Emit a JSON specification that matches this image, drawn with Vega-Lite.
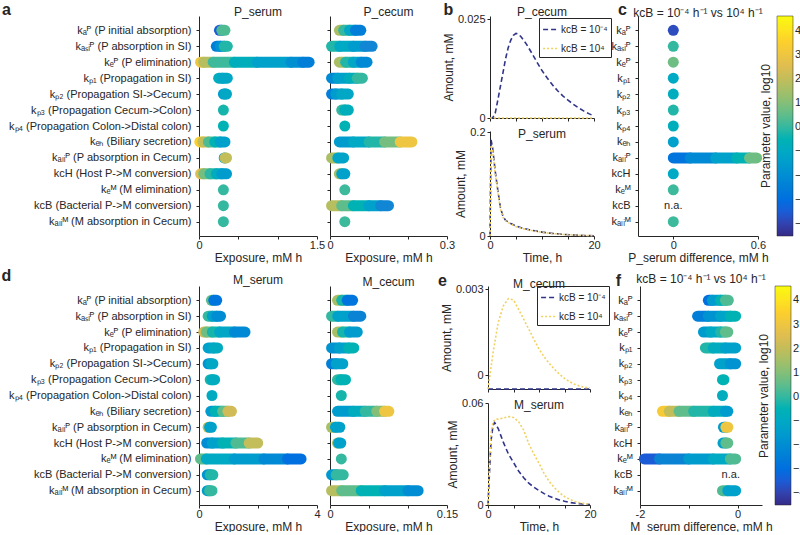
{
  "$schema": "https://vega.github.io/schema/vega-lite/v6.json",
  "autosize": {"type": "pad"},
  "padding": {"left": 1, "top": 1, "right": 0, "bottom": 0},
  "config": {
    "view": {"stroke": null},
    "font": "Liberation Sans",
    "axis": {"domainColor": "#262626", "tickColor": "#262626", "labelColor": "#262626", "titleColor": "#262626", "grid": false, "labelFontSize": 11, "titleFontSize": 12, "titleFontWeight": "normal", "tickSize": 3, "labelFlush": false, "labelOverlap": false, "titlePadding": 2},
    "title": {"fontSize": 12, "fontWeight": "normal", "color": "#262626", "offset": -2, "frame": "group"},
    "legend": {"labelFontSize": 11, "titleFontSize": 12, "titleFontWeight": "normal", "labelColor": "#262626", "titleColor": "#262626"}
  },
  "datasets": {
    "Ps": [
      {"i":1,"x":0.26,"x2":0.29,"v":-3.5},{"i":1,"x":0.29,"x2":0.33,"v":0.3},
      {"i":2,"x":0.22,"x2":0.27,"v":-2.5},{"i":2,"x":0.27,"x2":0.32,"v":-1.8},{"i":2,"x":0.32,"x2":0.36,"v":-0.2},
      {"i":3,"x":0.02,"x2":0.06,"v":3},{"i":3,"x":0.06,"x2":0.18,"v":1.8},{"i":3,"x":0.18,"x2":0.45,"v":0.1},{"i":3,"x":0.45,"x2":0.74,"v":-0.7},{"i":3,"x":0.74,"x2":1.17,"v":-1.3},{"i":3,"x":1.17,"x2":1.32,"v":-1.9},{"i":3,"x":1.32,"x2":1.4,"v":-2.5},
      {"i":4,"x":0.25,"x2":0.3,"v":-0.8},{"i":4,"x":0.3,"x2":0.36,"v":-1.1},
      {"i":5,"x":0.31,"x2":0.33,"v":-1.5},{"i":5,"x":0.33,"x2":0.35,"v":-1.1},
      {"i":6,"x":0.31,"x2":0.31,"v":-0.3},
      {"i":7,"x":0.31,"x2":0.31,"v":-0.5},
      {"i":8,"x":0.01,"x2":0.05,"v":3.5},{"i":8,"x":0.05,"x2":0.12,"v":2},{"i":8,"x":0.12,"x2":0.2,"v":0.3},{"i":8,"x":0.2,"x2":0.27,"v":-0.5},{"i":8,"x":0.27,"x2":0.33,"v":-1.3},
      {"i":9,"x":0.32,"x2":0.33,"v":-1.3},{"i":9,"x":0.33,"x2":0.35,"v":2},
      {"i":10,"x":0.02,"x2":0.06,"v":2.5},{"i":10,"x":0.06,"x2":0.14,"v":0.8},{"i":10,"x":0.14,"x2":0.22,"v":-0.1},{"i":10,"x":0.22,"x2":0.29,"v":-0.8},{"i":10,"x":0.29,"x2":0.35,"v":-1.5},
      {"i":11,"x":0.31,"x2":0.31,"v":0},
      {"i":12,"x":0.31,"x2":0.31,"v":0},
      {"i":13,"x":0.31,"x2":0.31,"v":0}
    ],
    "Pc": [
      {"i":1,"x":0.024,"x2":0.035,"v":1.6},{"i":1,"x":0.035,"x2":0.05,"v":0},{"i":1,"x":0.05,"x2":0.065,"v":-1.1},{"i":1,"x":0.065,"x2":0.079,"v":-2.5},
      {"i":2,"x":0.004,"x2":0.025,"v":-0.2},{"i":2,"x":0.025,"x2":0.06,"v":-1},{"i":2,"x":0.06,"x2":0.09,"v":-1.5},{"i":2,"x":0.09,"x2":0.108,"v":-2.2},
      {"i":3,"x":0.024,"x2":0.04,"v":1.6},{"i":3,"x":0.04,"x2":0.06,"v":-0.2},{"i":3,"x":0.06,"x2":0.08,"v":-1.1},{"i":3,"x":0.08,"x2":0.095,"v":-2.1},
      {"i":4,"x":0.004,"x2":0.02,"v":-2.1},{"i":4,"x":0.02,"x2":0.05,"v":-1.3},{"i":4,"x":0.05,"x2":0.07,"v":-0.7},{"i":4,"x":0.07,"x2":0.083,"v":0},
      {"i":5,"x":0.004,"x2":0.015,"v":-2.5},{"i":5,"x":0.015,"x2":0.03,"v":-1.5},{"i":5,"x":0.03,"x2":0.047,"v":-1.1},
      {"i":6,"x":0.03,"x2":0.038,"v":0},{"i":6,"x":0.038,"x2":0.047,"v":-0.7},
      {"i":7,"x":0.038,"x2":0.038,"v":-0.5},
      {"i":8,"x":0.024,"x2":0.06,"v":-1.5},{"i":8,"x":0.06,"x2":0.1,"v":-1},{"i":8,"x":0.1,"x2":0.14,"v":-0.2},{"i":8,"x":0.14,"x2":0.18,"v":0.8},{"i":8,"x":0.18,"x2":0.21,"v":3},
      {"i":9,"x":0.004,"x2":0.02,"v":1.6},{"i":9,"x":0.02,"x2":0.035,"v":-1.2},
      {"i":10,"x":0.024,"x2":0.03,"v":1.5},{"i":10,"x":0.03,"x2":0.038,"v":-1.3},
      {"i":11,"x":0.038,"x2":0.038,"v":0.1},
      {"i":12,"x":0.004,"x2":0.03,"v":1.8},{"i":12,"x":0.03,"x2":0.06,"v":0.5},{"i":12,"x":0.06,"x2":0.1,"v":-0.5},{"i":12,"x":0.1,"x2":0.13,"v":-1.3},{"i":12,"x":0.13,"x2":0.15,"v":-2.2},
      {"i":13,"x":0.038,"x2":0.038,"v":0.1}
    ],
    "dP": [
      {"i":1,"x":0,"x2":0,"v":-3.8},{"i":2,"x":0,"x2":0,"v":0},{"i":3,"x":0,"x2":0,"v":0.7},{"i":4,"x":0,"x2":0,"v":-1},{"i":5,"x":0,"x2":0,"v":-0.8},{"i":6,"x":0,"x2":0,"v":-0.2},{"i":7,"x":0,"x2":0,"v":-0.7},{"i":8,"x":0,"x2":0,"v":-1.3},
      {"i":9,"x":0,"x2":0.12,"v":-2.8},{"i":9,"x":0.12,"x2":0.3,"v":-2.1},{"i":9,"x":0.3,"x2":0.45,"v":-1.3},{"i":9,"x":0.45,"x2":0.54,"v":-0.5},{"i":9,"x":0.54,"x2":0.59,"v":0.7},
      {"i":10,"x":0,"x2":0,"v":-1},{"i":11,"x":0,"x2":0,"v":0.1},{"i":13,"x":0,"x2":0,"v":0.1}
    ],
    "Ms": [
      {"i":1,"x":0.42,"x2":0.5,"v":0.5},{"i":1,"x":0.5,"x2":0.6,"v":-2.8},
      {"i":2,"x":0.31,"x2":0.45,"v":0},{"i":2,"x":0.45,"x2":0.6,"v":-1.3},{"i":2,"x":0.6,"x2":0.73,"v":-2},
      {"i":3,"x":0.16,"x2":0.25,"v":2.2},{"i":3,"x":0.25,"x2":0.45,"v":0.7},{"i":3,"x":0.45,"x2":0.7,"v":-0.3},{"i":3,"x":0.7,"x2":1.2,"v":-1.1},{"i":3,"x":1.2,"x2":1.56,"v":-2.1},
      {"i":4,"x":0.31,"x2":0.5,"v":-1.3},{"i":4,"x":0.5,"x2":0.63,"v":-0.9},
      {"i":5,"x":0.31,"x2":0.4,"v":-1.8},{"i":5,"x":0.4,"x2":0.47,"v":-1.1},
      {"i":6,"x":0.38,"x2":0.45,"v":-0.3},{"i":6,"x":0.45,"x2":0.53,"v":-0.8},
      {"i":7,"x":0.44,"x2":0.44,"v":-0.9},
      {"i":8,"x":0.4,"x2":0.55,"v":-1.5},{"i":8,"x":0.55,"x2":0.8,"v":-0.5},{"i":8,"x":0.8,"x2":0.98,"v":0.5},{"i":8,"x":0.98,"x2":1.1,"v":2.2},
      {"i":9,"x":0.31,"x2":0.36,"v":1.8},{"i":9,"x":0.36,"x2":0.42,"v":-1.3},
      {"i":10,"x":0.26,"x2":0.45,"v":-2},{"i":10,"x":0.45,"x2":0.8,"v":-1.3},{"i":10,"x":0.8,"x2":1.25,"v":-0.5},{"i":10,"x":1.25,"x2":1.7,"v":0.3},{"i":10,"x":1.7,"x2":1.99,"v":2},
      {"i":11,"x":0.05,"x2":0.25,"v":0.5},{"i":11,"x":0.25,"x2":1.2,"v":-1},{"i":11,"x":1.2,"x2":2.2,"v":-1.5},{"i":11,"x":2.2,"x2":3.0,"v":-2.1},{"i":11,"x":3.0,"x2":3.46,"v":-3},
      {"i":12,"x":0.28,"x2":0.38,"v":-1.8},{"i":12,"x":0.38,"x2":0.47,"v":-0.2},
      {"i":13,"x":0.28,"x2":0.36,"v":-1.5},{"i":13,"x":0.36,"x2":0.44,"v":0}
    ],
    "Mc": [
      {"i":1,"x":0.0096,"x2":0.015,"v":1.6},{"i":1,"x":0.015,"x2":0.022,"v":-0.3},{"i":1,"x":0.022,"x2":0.029,"v":-2.8},
      {"i":2,"x":0.002,"x2":0.01,"v":0},{"i":2,"x":0.01,"x2":0.03,"v":-1.3},{"i":2,"x":0.03,"x2":0.0395,"v":-2.3},
      {"i":3,"x":0.0096,"x2":0.016,"v":1.6},{"i":3,"x":0.016,"x2":0.025,"v":-0.3},{"i":3,"x":0.025,"x2":0.035,"v":-1.5},
      {"i":4,"x":0.002,"x2":0.012,"v":-1.8},{"i":4,"x":0.012,"x2":0.024,"v":-1.3},{"i":4,"x":0.024,"x2":0.0305,"v":-0.5},
      {"i":5,"x":0.002,"x2":0.008,"v":-2.5},{"i":5,"x":0.008,"x2":0.0164,"v":-1.3},
      {"i":6,"x":0.0096,"x2":0.014,"v":0},{"i":6,"x":0.014,"x2":0.0199,"v":-0.5},
      {"i":7,"x":0.0145,"x2":0.0145,"v":-0.3},
      {"i":8,"x":0.0096,"x2":0.03,"v":-1.5},{"i":8,"x":0.03,"x2":0.045,"v":-0.8},{"i":8,"x":0.045,"x2":0.06,"v":0},{"i":8,"x":0.06,"x2":0.07,"v":1},{"i":8,"x":0.07,"x2":0.0754,"v":3},
      {"i":9,"x":0.002,"x2":0.007,"v":1.6},{"i":9,"x":0.007,"x2":0.0126,"v":-1.3},
      {"i":10,"x":0.0096,"x2":0.011,"v":1.5},{"i":10,"x":0.011,"x2":0.0139,"v":-1.3},
      {"i":11,"x":0.0145,"x2":0.0145,"v":0},
      {"i":12,"x":0.002,"x2":0.008,"v":-1.6},{"i":12,"x":0.008,"x2":0.017,"v":0},
      {"i":13,"x":0.002,"x2":0.015,"v":1.8},{"i":13,"x":0.015,"x2":0.04,"v":0.5},{"i":13,"x":0.04,"x2":0.07,"v":-0.5},{"i":13,"x":0.07,"x2":0.1,"v":-1.3},{"i":13,"x":0.1,"x2":0.113,"v":-2}
    ],
    "dM": [
      {"i":1,"x":-0.6,"x2":-0.52,"v":-3},{"i":1,"x":-0.52,"x2":-0.35,"v":-1.5},{"i":1,"x":-0.35,"x2":-0.25,"v":-0.5},{"i":1,"x":-0.25,"x2":-0.19,"v":0.3},
      {"i":2,"x":-0.82,"x2":-0.6,"v":-2.5},{"i":2,"x":-0.6,"x2":-0.35,"v":-1.8},{"i":2,"x":-0.35,"x2":-0.15,"v":-1.2},{"i":2,"x":-0.15,"x2":-0.04,"v":-0.5},
      {"i":3,"x":-0.7,"x2":-0.55,"v":-1.5},{"i":3,"x":-0.55,"x2":-0.35,"v":-1},{"i":3,"x":-0.35,"x2":-0.25,"v":-0.2},{"i":3,"x":-0.25,"x2":-0.2,"v":0.5},
      {"i":4,"x":-0.66,"x2":-0.5,"v":-0.2},{"i":4,"x":-0.5,"x2":-0.25,"v":-0.8},{"i":4,"x":-0.25,"x2":-0.04,"v":-1.3},
      {"i":5,"x":-0.37,"x2":-0.15,"v":-1.3},{"i":5,"x":-0.15,"x2":-0.04,"v":-1.8},
      {"i":6,"x":-0.31,"x2":-0.28,"v":-0.5},
      {"i":7,"x":-0.31,"x2":-0.31,"v":-0.8},
      {"i":8,"x":-1.54,"x2":-1.4,"v":3.3},{"i":8,"x":-1.4,"x2":-1.2,"v":2},{"i":8,"x":-1.2,"x2":-0.9,"v":0.5},{"i":8,"x":-0.9,"x2":-0.5,"v":-0.2},{"i":8,"x":-0.5,"x2":-0.25,"v":-0.8},{"i":8,"x":-0.25,"x2":-0.2,"v":-1.5},
      {"i":9,"x":-0.29,"x2":-0.24,"v":-1.5},{"i":9,"x":-0.24,"x2":-0.2,"v":3},
      {"i":10,"x":-0.3,"x2":-0.24,"v":-1.3},{"i":10,"x":-0.24,"x2":-0.2,"v":0.5},
      {"i":11,"x":-1.91,"x2":-1.6,"v":-3.5},{"i":11,"x":-1.6,"x2":-1.0,"v":-2.3},{"i":11,"x":-1.0,"x2":-0.5,"v":-1.5},{"i":11,"x":-0.5,"x2":-0.15,"v":-1},{"i":11,"x":-0.15,"x2":-0.04,"v":0.3},
      {"i":13,"x":-0.31,"x2":-0.2,"v":0.3},{"i":13,"x":-0.2,"x2":-0.04,"v":-1.3}
    ],
    "bc": [
      {"t":0,"y":0,"s":"kcB = 10⁻⁴"},{"t":0.5,"y":0,"s":"kcB = 10⁻⁴"},{"t":1,"y":0.0012,"s":"kcB = 10⁻⁴"},{"t":1.5,"y":0.0045,"s":"kcB = 10⁻⁴"},{"t":2,"y":0.008,"s":"kcB = 10⁻⁴"},{"t":2.5,"y":0.0115,"s":"kcB = 10⁻⁴"},{"t":3,"y":0.015,"s":"kcB = 10⁻⁴"},{"t":3.5,"y":0.0178,"s":"kcB = 10⁻⁴"},{"t":4,"y":0.0197,"s":"kcB = 10⁻⁴"},{"t":4.5,"y":0.0209,"s":"kcB = 10⁻⁴"},{"t":5,"y":0.0214,"s":"kcB = 10⁻⁴"},{"t":5.5,"y":0.0212,"s":"kcB = 10⁻⁴"},{"t":6,"y":0.0205,"s":"kcB = 10⁻⁴"},{"t":7,"y":0.0187,"s":"kcB = 10⁻⁴"},{"t":8,"y":0.0165,"s":"kcB = 10⁻⁴"},{"t":9,"y":0.0142,"s":"kcB = 10⁻⁴"},{"t":10,"y":0.012,"s":"kcB = 10⁻⁴"},{"t":11,"y":0.0101,"s":"kcB = 10⁻⁴"},{"t":12,"y":0.0084,"s":"kcB = 10⁻⁴"},{"t":13,"y":0.0069,"s":"kcB = 10⁻⁴"},{"t":14,"y":0.0056,"s":"kcB = 10⁻⁴"},{"t":15,"y":0.0045,"s":"kcB = 10⁻⁴"},{"t":16,"y":0.0035,"s":"kcB = 10⁻⁴"},{"t":17,"y":0.0026,"s":"kcB = 10⁻⁴"},{"t":18,"y":0.0018,"s":"kcB = 10⁻⁴"},{"t":19,"y":0.0011,"s":"kcB = 10⁻⁴"},{"t":20,"y":0.0005,"s":"kcB = 10⁻⁴"},
      {"t":0,"y":0,"s":"kcB = 10⁴"},{"t":20,"y":0,"s":"kcB = 10⁴"}
    ],
    "bs": [
      {"t":0,"y":0,"s":"kcB = 10⁻⁴"},{"t":0.2,"y":0.185,"s":"kcB = 10⁻⁴"},{"t":0.5,"y":0.17,"s":"kcB = 10⁻⁴"},{"t":1,"y":0.125,"s":"kcB = 10⁻⁴"},{"t":1.5,"y":0.088,"s":"kcB = 10⁻⁴"},{"t":2,"y":0.055,"s":"kcB = 10⁻⁴"},{"t":2.5,"y":0.038,"s":"kcB = 10⁻⁴"},{"t":3,"y":0.03,"s":"kcB = 10⁻⁴"},{"t":4,"y":0.024,"s":"kcB = 10⁻⁴"},{"t":5,"y":0.019,"s":"kcB = 10⁻⁴"},{"t":6,"y":0.016,"s":"kcB = 10⁻⁴"},{"t":7,"y":0.0135,"s":"kcB = 10⁻⁴"},{"t":8,"y":0.011,"s":"kcB = 10⁻⁴"},{"t":10,"y":0.0075,"s":"kcB = 10⁻⁴"},{"t":12,"y":0.005,"s":"kcB = 10⁻⁴"},{"t":14,"y":0.0032,"s":"kcB = 10⁻⁴"},{"t":16,"y":0.002,"s":"kcB = 10⁻⁴"},{"t":18,"y":0.0011,"s":"kcB = 10⁻⁴"},{"t":20,"y":0.0005,"s":"kcB = 10⁻⁴"},
      {"t":0,"y":0,"s":"kcB = 10⁴"},{"t":0.2,"y":0.175,"s":"kcB = 10⁴"},{"t":0.5,"y":0.165,"s":"kcB = 10⁴"},{"t":1,"y":0.12,"s":"kcB = 10⁴"},{"t":1.5,"y":0.085,"s":"kcB = 10⁴"},{"t":2,"y":0.052,"s":"kcB = 10⁴"},{"t":2.5,"y":0.036,"s":"kcB = 10⁴"},{"t":3,"y":0.029,"s":"kcB = 10⁴"},{"t":4,"y":0.023,"s":"kcB = 10⁴"},{"t":5,"y":0.018,"s":"kcB = 10⁴"},{"t":6,"y":0.015,"s":"kcB = 10⁴"},{"t":7,"y":0.0125,"s":"kcB = 10⁴"},{"t":8,"y":0.0105,"s":"kcB = 10⁴"},{"t":10,"y":0.007,"s":"kcB = 10⁴"},{"t":12,"y":0.0047,"s":"kcB = 10⁴"},{"t":14,"y":0.003,"s":"kcB = 10⁴"},{"t":16,"y":0.0019,"s":"kcB = 10⁴"},{"t":18,"y":0.001,"s":"kcB = 10⁴"},{"t":20,"y":0.0005,"s":"kcB = 10⁴"}
    ],
    "ec": [
      {"t":0,"y":0,"s":"kcB = 10⁻⁴"},{"t":20,"y":0,"s":"kcB = 10⁻⁴"},
      {"t":0,"y":0,"s":"kcB = 10⁴"},{"t":1,"y":0.0011,"s":"kcB = 10⁴"},{"t":2,"y":0.002,"s":"kcB = 10⁴"},{"t":3,"y":0.0025,"s":"kcB = 10⁴"},{"t":4,"y":0.00272,"s":"kcB = 10⁴"},{"t":5,"y":0.00268,"s":"kcB = 10⁴"},{"t":6,"y":0.0024,"s":"kcB = 10⁴"},{"t":7,"y":0.0021,"s":"kcB = 10⁴"},{"t":8,"y":0.0018,"s":"kcB = 10⁴"},{"t":9,"y":0.0015,"s":"kcB = 10⁴"},{"t":10,"y":0.0012,"s":"kcB = 10⁴"},{"t":11,"y":0.00097,"s":"kcB = 10⁴"},{"t":12,"y":0.00077,"s":"kcB = 10⁴"},{"t":13,"y":0.0006,"s":"kcB = 10⁴"},{"t":14,"y":0.00045,"s":"kcB = 10⁴"},{"t":15,"y":0.00032,"s":"kcB = 10⁴"},{"t":16,"y":0.00022,"s":"kcB = 10⁴"},{"t":17,"y":0.00014,"s":"kcB = 10⁴"},{"t":18,"y":0.00009,"s":"kcB = 10⁴"},{"t":19,"y":0.00005,"s":"kcB = 10⁴"},{"t":20,"y":0.00003,"s":"kcB = 10⁴"}
    ],
    "es": [
      {"t":0,"y":0,"s":"kcB = 10⁻⁴"},{"t":0.3,"y":0.02,"s":"kcB = 10⁻⁴"},{"t":0.6,"y":0.038,"s":"kcB = 10⁻⁴"},{"t":1,"y":0.047,"s":"kcB = 10⁻⁴"},{"t":1.3,"y":0.0485,"s":"kcB = 10⁻⁴"},{"t":2,"y":0.045,"s":"kcB = 10⁻⁴"},{"t":3,"y":0.037,"s":"kcB = 10⁻⁴"},{"t":4,"y":0.03,"s":"kcB = 10⁻⁴"},{"t":5,"y":0.025,"s":"kcB = 10⁻⁴"},{"t":6,"y":0.02,"s":"kcB = 10⁻⁴"},{"t":7,"y":0.016,"s":"kcB = 10⁻⁴"},{"t":8,"y":0.0128,"s":"kcB = 10⁻⁴"},{"t":9,"y":0.0105,"s":"kcB = 10⁻⁴"},{"t":10,"y":0.0085,"s":"kcB = 10⁻⁴"},{"t":11,"y":0.0067,"s":"kcB = 10⁻⁴"},{"t":12,"y":0.0052,"s":"kcB = 10⁻⁴"},{"t":13,"y":0.004,"s":"kcB = 10⁻⁴"},{"t":14,"y":0.003,"s":"kcB = 10⁻⁴"},{"t":15,"y":0.0022,"s":"kcB = 10⁻⁴"},{"t":16,"y":0.0015,"s":"kcB = 10⁻⁴"},{"t":18,"y":0.0007,"s":"kcB = 10⁻⁴"},{"t":20,"y":0.0003,"s":"kcB = 10⁻⁴"},
      {"t":0,"y":0,"s":"kcB = 10⁴"},{"t":0.3,"y":0.025,"s":"kcB = 10⁴"},{"t":0.6,"y":0.042,"s":"kcB = 10⁴"},{"t":1,"y":0.049,"s":"kcB = 10⁴"},{"t":1.5,"y":0.0505,"s":"kcB = 10⁴"},{"t":2,"y":0.0505,"s":"kcB = 10⁴"},{"t":3,"y":0.0512,"s":"kcB = 10⁴"},{"t":4,"y":0.052,"s":"kcB = 10⁴"},{"t":5,"y":0.0515,"s":"kcB = 10⁴"},{"t":6,"y":0.049,"s":"kcB = 10⁴"},{"t":7,"y":0.044,"s":"kcB = 10⁴"},{"t":8,"y":0.036,"s":"kcB = 10⁴"},{"t":9,"y":0.03,"s":"kcB = 10⁴"},{"t":10,"y":0.0245,"s":"kcB = 10⁴"},{"t":11,"y":0.0185,"s":"kcB = 10⁴"},{"t":12,"y":0.0138,"s":"kcB = 10⁴"},{"t":13,"y":0.0102,"s":"kcB = 10⁴"},{"t":14,"y":0.0073,"s":"kcB = 10⁴"},{"t":15,"y":0.005,"s":"kcB = 10⁴"},{"t":16,"y":0.0034,"s":"kcB = 10⁴"},{"t":17,"y":0.0022,"s":"kcB = 10⁴"},{"t":18,"y":0.0014,"s":"kcB = 10⁴"},{"t":19,"y":0.0008,"s":"kcB = 10⁴"},{"t":20,"y":0.0005,"s":"kcB = 10⁴"}
    ]
  },
  "spacing": 4,
  "resolve": {"scale": {"color": "independent", "stroke": "independent", "strokeDash": "independent"}},
  "vconcat": [
    {
      "spacing": -13,
      "resolve": {"scale": {"color": "independent", "stroke": "independent", "strokeDash": "independent"}},
      "hconcat": [
        {
          "bounds": "flush",
          "spacing": 13,
          "hconcat": [
            {
              "width": 118, "height": 220,
              "title": {"text": "P_serum", "offset": -18},
              "data": {"name": "Ps"},
              "mark": {"type": "rule", "strokeWidth": 11, "strokeCap": "round"},
              "encoding": {
                "y": {"field": "i", "type": "ordinal", "scale": {"type": "point", "domain": [1,2,3,4,5,6,7,8,9,10,11,12,13], "padding": 0.9},
                  "axis": {"title": "a", "titleAngle": 0, "titleX": -193, "titleY": -7, "titleFontSize": 16, "titleFontWeight": "bold", "titleAlign": "center", "titleBaseline": "middle", "labelLimit": 400, "labelPadding": 5,
                    "labelExpr": "['', 'kₐᴾ (P initial absorption)', 'kₐₛᵢᴾ (P absorption in SI)', 'kₑᴾ (P elimination)', 'kₚ₁ (Propagation in SI)', 'kₚ₂ (Propagation SI->Cecum)', 'kₚ₃ (Propagation Cecum->Colon)', 'kₚ₄ (Propagation Colon->Distal colon)', 'kₑₕ (Biliary secretion)', 'kₐₗᵢᴾ (P absorption in Cecum)', 'kcH (Host P->M conversion)', 'kₑᴹ (M elimination)', 'kcB (Bacterial P->M conversion)', 'kₐₗᵢᴹ (M absorption in Cecum)'][datum.value]"}},
                "x": {"field": "x", "type": "quantitative", "scale": {"domain": [0, 1.5], "nice": false, "zero": false},
                  "axis": {"values": [0, 0.5, 1, 1.5], "labelPadding": 0, "labelExpr": "datum.value == 0 ? '0' : datum.value == 1.5 ? '1.5' : ''", "title": "Exposure, mM h"}},
                "x2": {"field": "x2"},
                "color": {"field": "v", "type": "quantitative", "legend": null,
                  "scale": {"type": "linear", "domain": [-4.5, -3.3625, -2.225, -1.0875, 0.05, 1.1875, 2.325, 3.4625, 4.6], "range": ["#352a87", "#0363e1", "#1485d4", "#06a7c6", "#38b99e", "#92bf73", "#d9ba56", "#fcce2e", "#f9fb0e"], "clamp": true}}
              }
            },
            {
              "width": 117, "height": 220,
              "title": {"text": "P_cecum", "offset": -18},
              "data": {"name": "Pc"},
              "mark": {"type": "rule", "strokeWidth": 11, "strokeCap": "round"},
              "encoding": {
                "y": {"field": "i", "type": "ordinal", "scale": {"type": "point", "domain": [1,2,3,4,5,6,7,8,9,10,11,12,13], "padding": 0.9},
                  "axis": {"labels": false, "title": "b", "titleAngle": 0, "titleX": 118, "titleY": -7, "titleFontSize": 16, "titleFontWeight": "bold", "titleAlign": "center", "titleBaseline": "middle"}},
                "x": {"field": "x", "type": "quantitative", "scale": {"domain": [0, 0.3], "nice": false, "zero": false},
                  "axis": {"values": [0, 0.1, 0.2, 0.3], "labelPadding": 0, "labelExpr": "datum.value == 0 ? '0' : datum.value == 0.3 ? '0.3' : ''", "title": "Exposure, mM h"}},
                "x2": {"field": "x2"},
                "color": {"field": "v", "type": "quantitative", "legend": null,
                  "scale": {"type": "linear", "domain": [-4.5, -3.3625, -2.225, -1.0875, 0.05, 1.1875, 2.325, 3.4625, 4.6], "range": ["#352a87", "#0363e1", "#1485d4", "#06a7c6", "#38b99e", "#92bf73", "#d9ba56", "#fcce2e", "#f9fb0e"], "clamp": true}}
              }
            }
          ]
        },
        {
          "spacing": -1,
          "resolve": {"scale": {"color": "independent", "stroke": "independent", "strokeDash": "independent"}},
          "hconcat": [
            {
              "bounds": "flush",
              "spacing": 13,
              "resolve": {"scale": {"stroke": "independent", "strokeDash": "independent"}},
              "vconcat": [
                {
                  "width": 104, "height": 102,
                  "title": {"text": "P_cecum", "offset": -6},
                  "data": {"name": "bc"},
                  "mark": {"type": "line", "strokeWidth": 1.6},
                  "encoding": {
                    "x": {"field": "t", "type": "quantitative", "scale": {"domain": [0, 20], "nice": false},
                      "axis": {"values": [0, 5, 10, 15, 20], "labels": false, "title": null}},
                    "y": {"field": "y", "type": "quantitative", "scale": {"domain": [0, 0.0258], "nice": false},
                      "axis": {"values": [0, 0.025], "labelExpr": "datum.value == 0 ? '0' : '0.025'", "title": "Amount, mM"}},
                    "stroke": {"field": "s", "type": "nominal", "scale": {"domain": ["kcB = 10⁻⁴", "kcB = 10⁴"], "range": ["#30358a", "#f1d15f"]},
                      "legend": {"orient": "none", "legendX": 49, "legendY": 2, "title": null, "symbolType": "stroke", "symbolSize": 220, "symbolStrokeWidth": 1.6, "strokeColor": "#262626", "fillColor": "white", "padding": 3, "rowPadding": 5, "labelOffset": 2, "labelFontSize": 10}},
                    "strokeDash": {"field": "s", "type": "nominal", "scale": {"domain": ["kcB = 10⁻⁴", "kcB = 10⁴"], "range": [[5, 3], [2, 2]]},
                      "legend": {"orient": "none", "legendX": 49, "legendY": 2, "title": null, "symbolType": "stroke", "symbolSize": 220, "symbolStrokeWidth": 1.6, "strokeColor": "#262626", "fillColor": "white", "padding": 3, "rowPadding": 5, "labelOffset": 2, "labelFontSize": 10}}
                  }
                },
                {
                  "width": 104, "height": 105,
                  "title": {"text": "P_serum", "offset": -15},
                  "data": {"name": "bs"},
                  "mark": {"type": "line", "strokeWidth": 1.6},
                  "encoding": {
                    "x": {"field": "t", "type": "quantitative", "scale": {"domain": [0, 20], "nice": false},
                      "axis": {"values": [0, 5, 10, 15, 20], "labelPadding": 0, "labelExpr": "datum.value == 0 ? '0' : datum.value == 20 ? '20' : ''", "title": "Time, h"}},
                    "y": {"field": "y", "type": "quantitative", "scale": {"domain": [0, 0.202], "nice": false},
                      "axis": {"values": [0, 0.2], "labelExpr": "datum.value == 0 ? '0' : '0.2'", "title": "Amount, mM"}},
                    "stroke": {"field": "s", "type": "nominal", "scale": {"domain": ["kcB = 10⁻⁴", "kcB = 10⁴"], "range": ["#30358a", "#f1d15f"]}, "legend": null},
                    "strokeDash": {"field": "s", "type": "nominal", "scale": {"domain": ["kcB = 10⁻⁴", "kcB = 10⁴"], "range": [[5, 3], [2, 2]]}, "legend": null}
                  }
                }
              ]
            },
            {
              "width": 120, "height": 220,
              "title": {"text": "kcB = 10⁻⁴ h⁻¹ vs 10⁴ h⁻¹", "offset": -19},
              "layer": [
                {
                  "data": {"name": "dP"},
                  "mark": {"type": "rule", "strokeWidth": 11, "strokeCap": "round"},
                  "encoding": {
                    "y": {"field": "i", "type": "ordinal", "scale": {"type": "point", "domain": [1,2,3,4,5,6,7,8,9,10,11,12,13], "padding": 0.9},
                      "axis": {"title": "c", "titleAngle": 0, "titleX": -16, "titleY": -7, "titleFontSize": 16, "titleFontWeight": "bold", "titleAlign": "center", "titleBaseline": "middle", "labelPadding": 5,
                        "labelExpr": "['', 'kₐᴾ', 'kₐₛᵢᴾ', 'kₑᴾ', 'kₚ₁', 'kₚ₂', 'kₚ₃', 'kₚ₄', 'kₑₕ', 'kₐₗᵢᴾ', 'kcH', 'kₑᴹ', 'kcB', 'kₐₗᵢᴹ'][datum.value]"}},
                    "x": {"field": "x", "type": "quantitative", "scale": {"domain": [-0.25, 0.6], "nice": false, "zero": false},
                      "axis": {"values": [0, 0.2, 0.4, 0.6], "labelPadding": 0, "labelExpr": "datum.value == 0 ? '0' : datum.value == 0.6 ? '0.6' : ''", "title": "P_serum difference, mM h"}},
                    "x2": {"field": "x2"},
                    "color": {"field": "v", "type": "quantitative",
                      "scale": {"type": "linear", "domain": [-4.5, -3.3625, -2.225, -1.0875, 0.05, 1.1875, 2.325, 3.4625, 4.6], "range": ["#352a87", "#0363e1", "#1485d4", "#06a7c6", "#38b99e", "#92bf73", "#d9ba56", "#fcce2e", "#f9fb0e"], "clamp": true},
                      "legend": {"title": "Parameter value, log10", "orient": "right", "direction": "vertical", "gradientLength": 220, "gradientThickness": 16, "values": [-4, -3, -2, -1, 0, 1, 2, 3, 4], "titleOrient": "left", "titleAnchor": "middle", "titlePadding": 3, "offset": 2, "gradientStrokeColor": "#262626", "gradientStrokeWidth": 0.5}}
                  }
                },
                {
                  "data": {"values": [{"i": 12, "x": 0, "t": "n.a."}]},
                  "mark": {"type": "text", "fontSize": 11, "color": "#262626"},
                  "encoding": {
                    "y": {"field": "i", "type": "ordinal"},
                    "x": {"field": "x", "type": "quantitative"},
                    "text": {"field": "t"}
                  }
                }
              ]
            }
          ]
        }
      ]
    },
    {
      "spacing": -18,
      "resolve": {"scale": {"color": "independent", "stroke": "independent", "strokeDash": "independent"}},
      "hconcat": [
        {
          "bounds": "flush",
          "spacing": 13,
          "hconcat": [
            {
              "width": 118, "height": 219,
              "title": {"text": "M_serum", "offset": -20},
              "data": {"name": "Ms"},
              "mark": {"type": "rule", "strokeWidth": 11, "strokeCap": "round"},
              "encoding": {
                "y": {"field": "i", "type": "ordinal", "scale": {"type": "point", "domain": [1,2,3,4,5,6,7,8,9,10,11,12,13], "padding": 0.9},
                  "axis": {"title": "d", "titleAngle": 0, "titleX": -193, "titleY": -11, "titleFontSize": 16, "titleFontWeight": "bold", "titleAlign": "center", "titleBaseline": "middle", "labelLimit": 400, "labelPadding": 5,
                    "labelExpr": "['', 'kₐᴾ (P initial absorption)', 'kₐₛᵢᴾ (P absorption in SI)', 'kₑᴾ (P elimination)', 'kₚ₁ (Propagation in SI)', 'kₚ₂ (Propagation SI->Cecum)', 'kₚ₃ (Propagation Cecum->Colon)', 'kₚ₄ (Propagation Colon->Distal colon)', 'kₑₕ (Biliary secretion)', 'kₐₗᵢᴾ (P absorption in Cecum)', 'kcH (Host P->M conversion)', 'kₑᴹ (M elimination)', 'kcB (Bacterial P->M conversion)', 'kₐₗᵢᴹ (M absorption in Cecum)'][datum.value]"}},
                "x": {"field": "x", "type": "quantitative", "scale": {"domain": [0, 4], "nice": false, "zero": false},
                  "axis": {"values": [0, 1, 2, 3, 4], "labelPadding": 0, "labelExpr": "datum.value == 0 ? '0' : datum.value == 4 ? '4' : ''", "title": "Exposure, mM h"}},
                "x2": {"field": "x2"},
                "color": {"field": "v", "type": "quantitative", "legend": null,
                  "scale": {"type": "linear", "domain": [-4.5, -3.3625, -2.225, -1.0875, 0.05, 1.1875, 2.325, 3.4625, 4.6], "range": ["#352a87", "#0363e1", "#1485d4", "#06a7c6", "#38b99e", "#92bf73", "#d9ba56", "#fcce2e", "#f9fb0e"], "clamp": true}}
              }
            },
            {
              "width": 117, "height": 219,
              "title": {"text": "M_cecum", "offset": -17},
              "data": {"name": "Mc"},
              "mark": {"type": "rule", "strokeWidth": 11, "strokeCap": "round"},
              "encoding": {
                "y": {"field": "i", "type": "ordinal", "scale": {"type": "point", "domain": [1,2,3,4,5,6,7,8,9,10,11,12,13], "padding": 0.9},
                  "axis": {"labels": false, "title": "e", "titleAngle": 0, "titleX": 112, "titleY": -6, "titleFontSize": 16, "titleFontWeight": "bold", "titleAlign": "center", "titleBaseline": "middle"}},
                "x": {"field": "x", "type": "quantitative", "scale": {"domain": [0, 0.15], "nice": false, "zero": false},
                  "axis": {"values": [0, 0.05, 0.1, 0.15], "labelPadding": 0, "labelExpr": "datum.value == 0 ? '0' : datum.value == 0.15 ? '0.15' : ''", "title": "Exposure, mM h"}},
                "x2": {"field": "x2"},
                "color": {"field": "v", "type": "quantitative", "legend": null,
                  "scale": {"type": "linear", "domain": [-4.5, -3.3625, -2.225, -1.0875, 0.05, 1.1875, 2.325, 3.4625, 4.6], "range": ["#352a87", "#0363e1", "#1485d4", "#06a7c6", "#38b99e", "#92bf73", "#d9ba56", "#fcce2e", "#f9fb0e"], "clamp": true}}
              }
            }
          ]
        },
        {
          "spacing": 3,
          "resolve": {"scale": {"color": "independent", "stroke": "independent", "strokeDash": "independent"}},
          "hconcat": [
            {
              "bounds": "flush",
              "spacing": 14,
              "resolve": {"scale": {"stroke": "independent", "strokeDash": "independent"}},
              "vconcat": [
                {
                  "width": 102, "height": 103,
                  "title": {"text": "M_cecum", "offset": -8},
                  "data": {"name": "ec"},
                  "mark": {"type": "line", "strokeWidth": 1.6},
                  "encoding": {
                    "x": {"field": "t", "type": "quantitative", "scale": {"domain": [0, 20], "nice": false},
                      "axis": {"values": [0, 5, 10, 15, 20], "labels": false, "title": null}},
                    "y": {"field": "y", "type": "quantitative", "scale": {"domain": [0, 0.0031], "nice": false},
                      "axis": {"values": [0.00042, 0.003], "labelExpr": "datum.value < 0.001 ? '0' : '0.003'", "title": "Amount, mM"}},
                    "stroke": {"field": "s", "type": "nominal", "scale": {"domain": ["kcB = 10⁻⁴", "kcB = 10⁴"], "range": ["#30358a", "#f1d15f"]},
                      "legend": {"orient": "none", "legendX": 49, "legendY": 0, "title": null, "symbolType": "stroke", "symbolSize": 220, "symbolStrokeWidth": 1.6, "strokeColor": "#262626", "fillColor": "white", "padding": 3, "rowPadding": 5, "labelOffset": 2, "labelFontSize": 10}},
                    "strokeDash": {"field": "s", "type": "nominal", "scale": {"domain": ["kcB = 10⁻⁴", "kcB = 10⁴"], "range": [[5, 3], [2, 2]]},
                      "legend": {"orient": "none", "legendX": 49, "legendY": 0, "title": null, "symbolType": "stroke", "symbolSize": 220, "symbolStrokeWidth": 1.6, "strokeColor": "#262626", "fillColor": "white", "padding": 3, "rowPadding": 5, "labelOffset": 2, "labelFontSize": 10}}
                  }
                },
                {
                  "width": 102, "height": 102,
                  "title": {"text": "M_serum", "offset": -15},
                  "data": {"name": "es"},
                  "mark": {"type": "line", "strokeWidth": 1.6},
                  "encoding": {
                    "x": {"field": "t", "type": "quantitative", "scale": {"domain": [0, 20], "nice": false},
                      "axis": {"values": [0, 5, 10, 15, 20], "labelPadding": 0, "labelExpr": "datum.value == 0 ? '0' : datum.value == 20 ? '20' : ''", "title": "Time, h"}},
                    "y": {"field": "y", "type": "quantitative", "scale": {"domain": [0, 0.06], "nice": false},
                      "axis": {"values": [0, 0.06], "labelExpr": "datum.value == 0 ? '0' : '0.06'", "title": "Amount, mM"}},
                    "stroke": {"field": "s", "type": "nominal", "scale": {"domain": ["kcB = 10⁻⁴", "kcB = 10⁴"], "range": ["#30358a", "#f1d15f"]}, "legend": null},
                    "strokeDash": {"field": "s", "type": "nominal", "scale": {"domain": ["kcB = 10⁻⁴", "kcB = 10⁴"], "range": [[5, 3], [2, 2]]}, "legend": null}
                  }
                }
              ]
            },
            {
              "width": 122, "height": 219,
              "title": {"text": "kcB = 10⁻⁴ h⁻¹ vs 10⁴ h⁻¹", "offset": -14},
              "layer": [
                {
                  "data": {"name": "dM"},
                  "mark": {"type": "rule", "strokeWidth": 11, "strokeCap": "round"},
                  "encoding": {
                    "y": {"field": "i", "type": "ordinal", "scale": {"type": "point", "domain": [1,2,3,4,5,6,7,8,9,10,11,12,13], "padding": 0.9},
                      "axis": {"title": "f", "titleAngle": 0, "titleX": -22, "titleY": -6, "titleFontSize": 16, "titleFontWeight": "bold", "titleAlign": "center", "titleBaseline": "middle", "labelPadding": 5,
                        "labelExpr": "['', 'kₐᴾ', 'kₐₛᵢᴾ', 'kₑᴾ', 'kₚ₁', 'kₚ₂', 'kₚ₃', 'kₚ₄', 'kₑₕ', 'kₐₗᵢᴾ', 'kcH', 'kₑᴹ', 'kcB', 'kₐₗᵢᴹ'][datum.value]"}},
                    "x": {"field": "x", "type": "quantitative", "scale": {"domain": [-2, 0.5], "nice": false, "zero": false},
                      "axis": {"values": [-2, -1.5, -1, -0.5, 0, 0.5], "labelPadding": 0, "labelExpr": "datum.value == -2 ? '-2' : datum.value == 0 ? '0' : datum.value == 0.5 ? '0.5' : ''", "title": "M_serum difference, mM h"}},
                    "x2": {"field": "x2"},
                    "color": {"field": "v", "type": "quantitative",
                      "scale": {"type": "linear", "domain": [-4.5, -3.3625, -2.225, -1.0875, 0.05, 1.1875, 2.325, 3.4625, 4.6], "range": ["#352a87", "#0363e1", "#1485d4", "#06a7c6", "#38b99e", "#92bf73", "#d9ba56", "#fcce2e", "#f9fb0e"], "clamp": true},
                      "legend": {"title": "Parameter value, log10", "orient": "right", "direction": "vertical", "gradientLength": 219, "gradientThickness": 16, "values": [-4, -3, -2, -1, 0, 1, 2, 3, 4], "titleOrient": "left", "titleAnchor": "middle", "titlePadding": 3, "offset": -4, "gradientStrokeColor": "#262626", "gradientStrokeWidth": 0.5}}
                  }
                },
                {
                  "data": {"values": [{"i": 12, "x": -0.14, "t": "n.a."}]},
                  "mark": {"type": "text", "fontSize": 11, "color": "#262626"},
                  "encoding": {
                    "y": {"field": "i", "type": "ordinal"},
                    "x": {"field": "x", "type": "quantitative"},
                    "text": {"field": "t"}
                  }
                }
              ]
            }
          ]
        }
      ]
    }
  ]
}
